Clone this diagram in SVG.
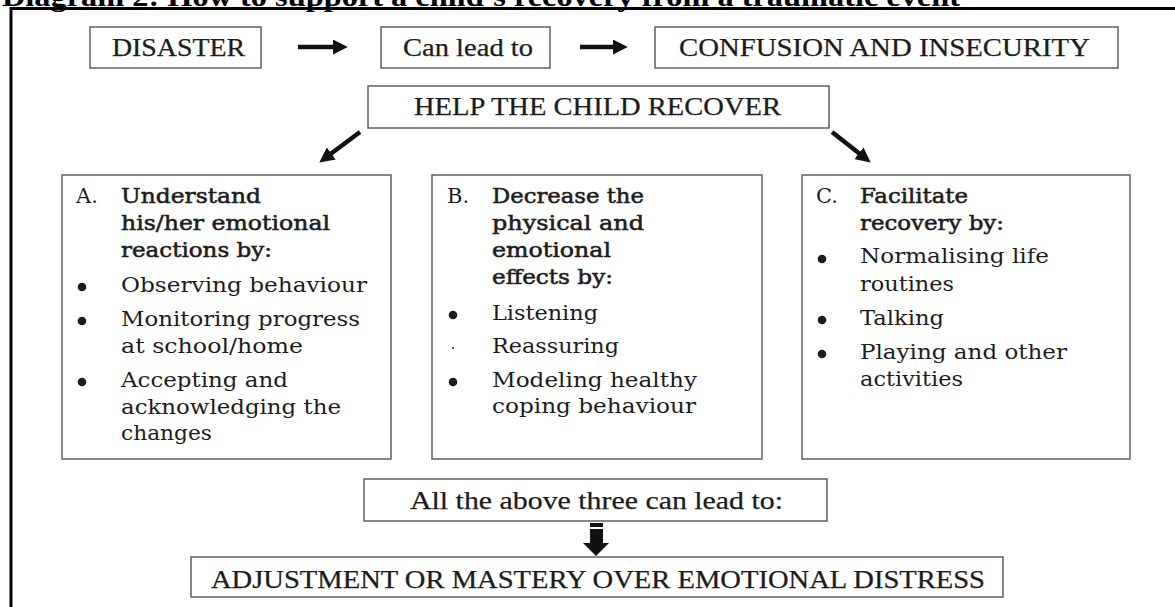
<svg xmlns="http://www.w3.org/2000/svg" width="1175" height="607" viewBox="0 0 1175 607">
<defs>
<style>
.box{fill:#fff;stroke:#555;stroke-width:1.4}
.t{font-family:"Liberation Serif","Times New Roman",serif;font-size:25px;fill:#1c1c1c;stroke:#1c1c1c;stroke-width:0.25}
.b{font-family:"DejaVu Serif","Liberation Serif",serif;font-size:21px;fill:#1c1c1c}
.h{font-family:"DejaVu Serif","Liberation Serif",serif;font-size:21px;fill:#1c1c1c;stroke:#1c1c1c;stroke-width:0.55}
.dot{fill:#1c1c1c}
.ln{stroke:#111;stroke-width:4.5;fill:none;marker-end:url(#ah)}
</style>
<marker id="ah" markerUnits="userSpaceOnUse" viewBox="0 0 14 14" refX="2" refY="7" markerWidth="15" markerHeight="15" orient="auto">
<path d="M0,0 L14,7 L0,14 z" fill="#111"/>
</marker>
</defs>
<rect width="1175" height="607" fill="#fff"/>
<g id="frame">
<text x="2" y="6" font-family="Liberation Serif, serif" font-weight="bold" font-size="28" fill="#000" textLength="958" lengthAdjust="spacingAndGlyphs">Diagram 2: How to support a child’s recovery from a traumatic event</text>
<path d="M11,607 L11,8.5 L1175,8.5" fill="none" stroke="#000" stroke-width="3"/>
</g>
<g id="connectors">
<line class="ln" x1="298" y1="47" x2="335" y2="47"/>
<line class="ln" x1="580" y1="47" x2="615" y2="47"/>
<line class="ln" x1="360" y1="132" x2="329.6" y2="154.8"/>
<line class="ln" x1="832" y1="132" x2="860.6" y2="154.6"/>
<g fill="#111">
<rect x="590" y="523" width="13" height="4"/>
<rect x="590" y="529" width="13" height="15"/>
<polygon points="583,543 609,543 596,556"/>
</g>
</g>
<g id="disaster">
<rect class="box" x="90" y="27" width="171" height="41"/>
<text class="t" x="112" y="56" textLength="133" lengthAdjust="spacingAndGlyphs">DISASTER</text>
</g>
<g id="can-lead-to">
<rect class="box" x="381" y="27" width="169" height="41"/>
<text class="t" x="403" y="56" textLength="130" lengthAdjust="spacingAndGlyphs">Can lead to</text>
</g>
<g id="confusion">
<rect class="box" x="655" y="27" width="463" height="41"/>
<text class="t" x="679" y="56" textLength="411" lengthAdjust="spacingAndGlyphs">CONFUSION AND INSECURITY</text>
</g>
<g id="help">
<rect class="box" x="368" y="86" width="461" height="42"/>
<text class="t" x="414" y="115" textLength="367" lengthAdjust="spacingAndGlyphs">HELP THE CHILD RECOVER</text>
</g>
<g id="box-a">
<rect class="box" x="62" y="175" width="329" height="284"/>
<text class="b" x="76" y="203">A.</text>
<text class="h" x="121" y="203" textLength="140" lengthAdjust="spacingAndGlyphs">Understand</text>
<text class="h" x="121" y="230" textLength="209" lengthAdjust="spacingAndGlyphs">his/her emotional</text>
<text class="h" x="121" y="257" textLength="151" lengthAdjust="spacingAndGlyphs">reactions by:</text>
<circle class="dot" cx="82" cy="287" r="4.3"/>
<text class="b" x="121" y="292" textLength="246" lengthAdjust="spacingAndGlyphs">Observing behaviour</text>
<circle class="dot" cx="82" cy="321" r="4.3"/>
<text class="b" x="121" y="326" textLength="239" lengthAdjust="spacingAndGlyphs">Monitoring progress</text>
<text class="b" x="121" y="353" textLength="182" lengthAdjust="spacingAndGlyphs">at school/home</text>
<circle class="dot" cx="82" cy="382" r="4.3"/>
<text class="b" x="121" y="387" textLength="167" lengthAdjust="spacingAndGlyphs">Accepting and</text>
<text class="b" x="121" y="414" textLength="220" lengthAdjust="spacingAndGlyphs">acknowledging the</text>
<text class="b" x="121" y="440" textLength="91" lengthAdjust="spacingAndGlyphs">changes</text>
</g>
<g id="box-b">
<rect class="box" x="432" y="175" width="330" height="284"/>
<text class="b" x="447" y="203">B.</text>
<text class="h" x="492" y="203" textLength="152" lengthAdjust="spacingAndGlyphs">Decrease the</text>
<text class="h" x="492" y="230" textLength="152" lengthAdjust="spacingAndGlyphs">physical and</text>
<text class="h" x="492" y="257" textLength="119" lengthAdjust="spacingAndGlyphs">emotional</text>
<text class="h" x="492" y="284" textLength="121" lengthAdjust="spacingAndGlyphs">effects by:</text>
<circle class="dot" cx="453" cy="315" r="4.3"/>
<text class="b" x="492" y="320" textLength="106" lengthAdjust="spacingAndGlyphs">Listening</text>
<circle class="dot" cx="453" cy="348" r="1"/>
<text class="b" x="492" y="353" textLength="127" lengthAdjust="spacingAndGlyphs">Reassuring</text>
<circle class="dot" cx="453" cy="382" r="4.3"/>
<text class="b" x="492" y="387" textLength="205" lengthAdjust="spacingAndGlyphs">Modeling healthy</text>
<text class="b" x="492" y="413" textLength="204" lengthAdjust="spacingAndGlyphs">coping behaviour</text>
</g>
<g id="box-c">
<rect class="box" x="802" y="175" width="328" height="284"/>
<text class="b" x="816" y="203">C.</text>
<text class="h" x="860" y="203" textLength="108" lengthAdjust="spacingAndGlyphs">Facilitate</text>
<text class="h" x="860" y="230" textLength="144" lengthAdjust="spacingAndGlyphs">recovery by:</text>
<circle class="dot" cx="822" cy="259" r="4.3"/>
<text class="b" x="860" y="263" textLength="189" lengthAdjust="spacingAndGlyphs">Normalising life</text>
<text class="b" x="860" y="291" textLength="94" lengthAdjust="spacingAndGlyphs">routines</text>
<circle class="dot" cx="822" cy="320" r="4.3"/>
<text class="b" x="860" y="325" textLength="84" lengthAdjust="spacingAndGlyphs">Talking</text>
<circle class="dot" cx="822" cy="354" r="4.3"/>
<text class="b" x="860" y="359" textLength="207" lengthAdjust="spacingAndGlyphs">Playing and other</text>
<text class="b" x="860" y="386" textLength="103" lengthAdjust="spacingAndGlyphs">activities</text>
</g>
<g id="all-above">
<rect class="box" x="364" y="479" width="463" height="42"/>
<text class="t" x="410" y="509" textLength="373" lengthAdjust="spacingAndGlyphs">All the above three can lead to:</text>
</g>
<g id="adjustment">
<rect class="box" x="191" y="557" width="812" height="40"/>
<text class="t" x="211" y="588" textLength="774" lengthAdjust="spacingAndGlyphs">ADJUSTMENT OR MASTERY OVER EMOTIONAL DISTRESS</text>
</g>
</svg>
